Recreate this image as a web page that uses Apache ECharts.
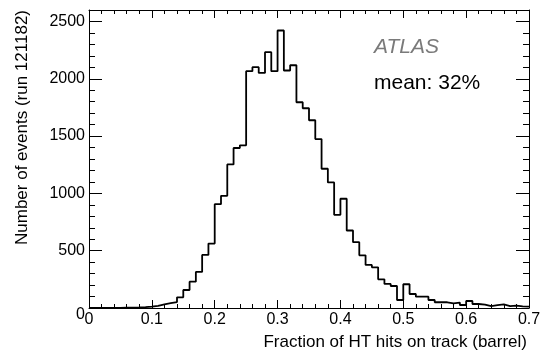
<!DOCTYPE html>
<html>
<head>
<meta charset="utf-8">
<script src="https://cdn.jsdelivr.net/npm/echarts@6/dist/echarts.min.js"></script>
<style>
  html, body { margin: 0; padding: 0; background: #fff; }
  #chart { width: 545px; height: 358px; }
</style>
</head>
<body>
<div id="chart"></div>
<script>
// histogram: 70 bins of width 0.01 from 0 to 0.7
const BIN_START = 0
const BIN_WIDTH = 0.01
const counts = [
  0, 0, 0, 0, 1, 2, 3, 5, 8, 12,
  18, 32, 42, 52, 93, 157, 230, 315, 463, 562,
  906, 979, 1253, 1396, 1419, 2066, 2101, 2051, 2232, 2066,
  2421, 2072, 2118, 1795, 1743, 1638, 1474, 1215, 1096, 813,
  953, 676, 574, 460, 376, 355, 250, 210, 192, 70,
  207, 122, 99, 99, 70, 50, 50, 41, 47, 26,
  61, 35, 29, 17, 26, 32, 17, 20, 15, 12
]
const X_MIN = 0, X_MAX = 0.7, X_STEP = 0.1
const Y_MIN = 0, Y_MAX = 2600, Y_STEP = 500, Y_MINOR = 100

const FONT = 'Liberation Sans, Arial, Helvetica, sans-serif'

// step points at the lower bin edges, plus the closing edge
const stepData = counts.map((v, i) => [+(BIN_START + i * BIN_WIDTH).toFixed(2), v])
stepData.push([X_MAX, counts[counts.length - 1]])

const xAxisBase = (pos, showLabel) => ({
  type: 'value',
  position: pos,
  min: X_MIN,
  max: X_MAX,
  interval: X_STEP,
  axisLine: { show: true, onZero: false, lineStyle: { color: '#000', width: 1 } },
  axisTick: { show: true, inside: true, length: 8, lineStyle: { color: '#000', width: 1 } },
  minorTick: { show: true, splitNumber: 5, length: 4, lineStyle: { color: '#000', width: 1 } },
  splitLine: { show: false },
  axisLabel: {
    show: showLabel,
    color: '#000',
    fontFamily: FONT,
    fontSize: 16,
    margin: 4,
    formatter: v => String(+v.toFixed(2))
  }
})

const yAxisBase = (pos, major) => ({
  type: 'value',
  position: pos,
  min: Y_MIN,
  max: Y_MAX,
  interval: major ? Y_STEP : Y_MINOR,
  axisLine: { show: major, onZero: false, lineStyle: { color: '#000', width: 1 } },
  axisTick: { show: true, inside: true, length: major ? 13 : 6, lineStyle: { color: '#000', width: 1 } },
  splitLine: { show: false },
  axisLabel: {
    show: major && pos === 'left',
    color: '#000',
    fontFamily: FONT,
    fontSize: 16,
    margin: 4,
    // ROOT puts the y "0" a little below the corner
    formatter: v => (v === 0 ? '{z|0}' : (v % Y_STEP === 0 ? String(v) : '')),
    rich: { z: { fontFamily: FONT, fontSize: 16, color: '#000', padding: [14, 0, 0, 0] } }
  }
})

const chart = echarts.init(document.getElementById('chart'))

chart.setOption({
  animation: false,
  backgroundColor: '#fff',
  grid: { left: 89, right: 16, top: 10, bottom: 50, containLabel: false },
  xAxis: [xAxisBase('bottom', true), xAxisBase('top', false)],
  yAxis: [
    yAxisBase('left', true),
    yAxisBase('left', false),
    yAxisBase('right', true),
    yAxisBase('right', false)
  ],
  graphic: [
    {
      type: 'text', left: 374, top: 37,
      style: { text: 'ATLAS', fill: '#7a7a7a', font: 'italic 21px ' + FONT }
    },
    {
      type: 'text', left: 374, top: 73,
      style: { text: 'mean: 32%', fill: '#000', font: '21px ' + FONT }
    },
    {
      type: 'text', right: 18, top: 334,
      style: { text: 'Fraction of HT hits on track (barrel)', fill: '#000', font: '17px ' + FONT }
    },
    {
      type: 'text', x: 14, y: 10, rotation: Math.PI / 2, originX: 0, originY: 0,
      style: { text: 'Number of events (run 121182)', fill: '#000', font: '17px ' + FONT, align: 'right', verticalAlign: 'top' }
    }
  ],
  series: [{
    type: 'line',
    xAxisIndex: 0,
    yAxisIndex: 0,
    step: 'end',
    symbol: 'none',
    data: stepData,
    lineStyle: { color: '#000', width: 1.8 },
    silent: true
  }]
})
</script>
</body>
</html>
